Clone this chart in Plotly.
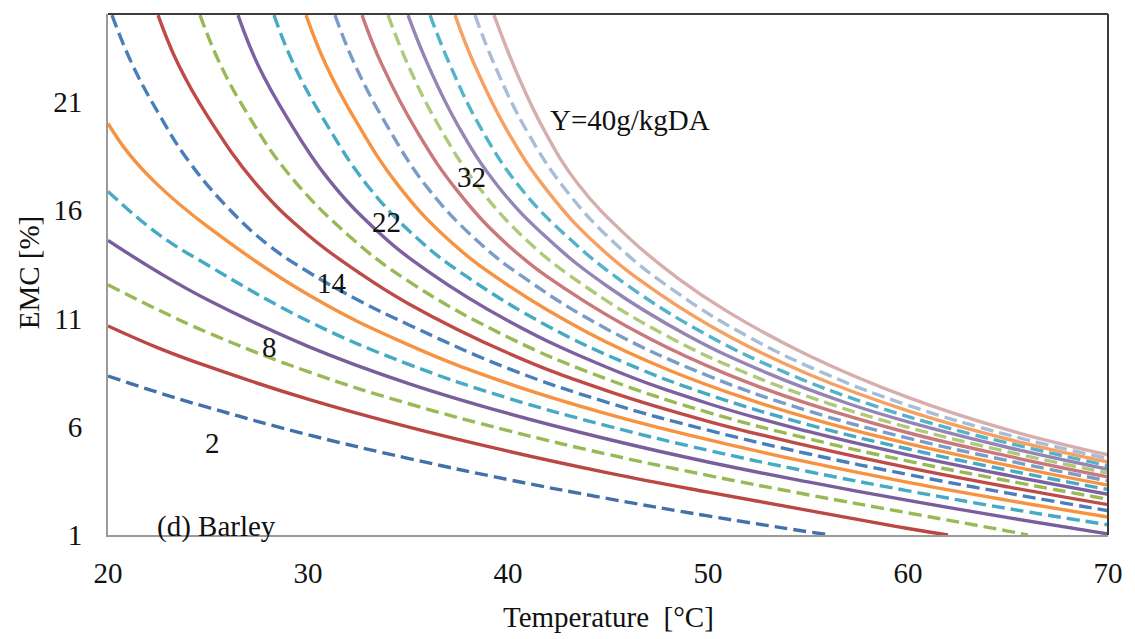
import plotly.graph_objects as go

# Absolute humidity of the drying air for each curve [g/kg dry air]
humidity = [2, 4, 6, 8, 10, 12, 14, 16, 18, 20, 22, 24, 26, 28, 30, 32, 34, 36, 38, 40]

# Temperature [°C] / equilibrium moisture content [%] pairs, one pair of lists per curve
T_02 = [20, 22.5, 25, 30, 35, 40, 45, 50, 55, 56.1]
M_02 = [8.34, 7.58, 6.89, 5.63, 4.54, 3.56, 2.68, 1.88, 1.15, 1.0]

T_04 = [20, 22.5, 25, 30, 35, 40, 45, 50, 55, 60, 62.0]
M_04 = [10.65, 9.64, 8.78, 7.27, 5.99, 4.87, 3.87, 2.98, 2.14, 1.3, 1.0]

T_06 = [20, 22.5, 25, 30, 35, 40, 45, 50, 55, 60, 65, 66.0]
M_06 = [12.55, 11.40, 10.34, 8.54, 7.07, 5.82, 4.72, 3.75, 2.86, 2.02, 1.18, 1.0]

T_08 = [20, 22.5, 25, 30, 35, 40, 45, 50, 55, 60, 65, 70]
M_08 = [14.6, 13.14, 11.85, 9.71, 8.00, 6.61, 5.42, 4.37, 3.45, 2.6, 1.8, 1.05]

T_10 = [20, 22.5, 25, 30, 35, 40, 45, 50, 55, 60, 65, 70]
M_10 = [16.86, 14.9, 13.45, 10.88, 8.89, 7.32, 6.03, 4.91, 3.93, 3.04, 2.22, 1.47]

T_12 = [20, 21, 22.5, 25, 30, 35, 40, 45, 50, 55, 60, 65, 70]
M_12 = [20.0, 18.65, 17.15, 15.22, 12.10, 9.79, 8.00, 6.58, 5.40, 4.36, 3.43, 2.6, 1.83]

T_14 = [20.2, 21.2, 22.6, 24, 26, 28, 30, 32.5, 35, 40, 45, 50, 55, 60, 65, 70]
M_14 = [25, 22.75, 20.35, 18.3, 16.1, 14.4, 13.15, 11.85, 10.72, 8.69, 7.11, 5.84, 4.75, 3.79, 2.93, 2.12]

T_16 = [22.5, 23.5, 25, 27.5, 30, 32.5, 35, 40, 45, 50, 55, 60, 65, 70]
M_16 = [25, 22.75, 20.3, 17.1, 14.85, 13.14, 11.69, 9.40, 7.64, 6.25, 5.11, 4.11, 3.22, 2.4]

T_18 = [24.6, 25.6, 27, 29, 32, 35, 40, 45, 50, 55, 60, 65, 70]
M_18 = [25, 22.75, 20.4, 17.7, 14.85, 12.73, 10.13, 8.18, 6.66, 5.45, 4.41, 3.50, 2.65]

T_20 = [26.5, 27.5, 29, 31, 33.5, 36, 40, 45, 50, 55, 60, 65, 70]
M_20 = [25, 22.7, 20.2, 17.45, 15.0, 13.17, 10.89, 8.72, 7.07, 5.78, 4.70, 3.75, 2.88]

T_22 = [28.3, 29.3, 31, 33, 35.5, 38, 42, 46, 50, 55, 60, 65, 70]
M_22 = [25, 22.7, 19.85, 17.1, 14.66, 12.89, 10.64, 8.89, 7.49, 6.10, 4.97, 3.99, 3.10]

T_24 = [29.9, 30.9, 32.5, 34.5, 37, 40, 44, 48, 52, 56, 60, 65, 70]
M_24 = [25, 22.7, 19.95, 17.15, 14.65, 12.53, 10.34, 8.63, 7.27, 6.15, 5.22, 4.21, 3.30]

T_26 = [31.35, 32.35, 34, 36, 38.5, 41, 45, 50, 55, 60, 65, 70]
M_26 = [25, 22.7, 19.82, 17.0, 14.55, 12.75, 10.48, 8.35, 6.73, 5.47, 4.43, 3.50]

T_28 = [32.7, 33.7, 35.5, 37.5, 40, 43, 47, 51, 55, 60, 65, 70]
M_28 = [25, 22.7, 19.55, 16.85, 14.38, 12.28, 10.10, 8.40, 7.06, 5.72, 4.64, 3.68]

T_30 = [34.0, 35, 36.5, 38.5, 41, 44, 48, 52, 56, 60, 65, 70]
M_30 = [25, 22.7, 19.95, 17.1, 14.55, 12.39, 10.16, 8.44, 7.08, 5.97, 4.84, 3.86]

T_32 = [35.0, 36, 37.5, 39.5, 42, 45, 49, 53, 57, 60, 65, 70]
M_32 = [25, 22.7, 19.9, 17.1, 14.67, 12.46, 10.20, 8.46, 7.07, 6.22, 5.04, 4.03]

T_34 = [36.1, 37.1, 38.6, 40.6, 43, 46, 50, 54, 58, 62, 66, 70]
M_34 = [25, 22.7, 19.85, 17.05, 14.74, 12.51, 10.21, 8.45, 7.06, 5.94, 5.03, 4.2]

T_36 = [37.35, 38.35, 40, 42, 44.5, 47.5, 51, 55, 60, 65, 70]
M_36 = [25, 22.65, 19.6, 16.85, 14.35, 12.18, 10.20, 8.43, 6.73, 5.42, 4.37]

T_38 = [38.35, 39.35, 41, 43, 45.5, 48.5, 52, 56, 60, 65, 70]
M_38 = [25, 22.65, 19.55, 16.8, 14.33, 12.15, 10.16, 8.39, 6.99, 5.62, 4.53]

T_40 = [39.3, 40.5, 41.8, 43.5, 46, 48.5, 51, 55, 60, 65, 70]
M_40 = [25, 22.2, 19.7, 17.2, 14.75, 12.85, 11.3, 9.3, 7.35, 5.85, 4.7]

temps = [T_02, T_04, T_06, T_08, T_10, T_12, T_14, T_16, T_18, T_20,
         T_22, T_24, T_26, T_28, T_30, T_32, T_34, T_36, T_38, T_40]
emcs = [M_02, M_04, M_06, M_08, M_10, M_12, M_14, M_16, M_18, M_20,
        M_22, M_24, M_26, M_28, M_30, M_32, M_34, M_36, M_38, M_40]

colors = [
    "#4270A8", "#BA4744", "#98B954", "#7A5E9C", "#46AAC5", "#F69240",
    "#4A7EBB", "#BE4B48", "#98B954", "#7D60A0", "#46AAC5", "#F69240",
    "#7B9CC8", "#C9787C", "#AFC97A", "#9585B5", "#52B3CB", "#F6A062",
    "#A8BDD8", "#D7AEAE",
]

x_ticks = [20, 30, 40, 50, 60, 70]
y_ticks = [1, 6, 11, 16, 21]

# Curve labels: (text, temperature, EMC)
curve_labels = [
    ("2", 25.22, 5.25),
    ("8", 28.06, 9.68),
    ("14", 31.19, 12.64),
    ("22", 33.93, 15.46),
    ("32", 38.16, 17.54),
    ("Y=40g/kgDA", 46.12, 20.17),
    ("(d) Barley", 25.42, 1.37),
]

FONT = "Liberation Serif, Times New Roman, serif"
FS = 29

fig = go.Figure()
for i, (y_abs, tx, my) in enumerate(zip(humidity, temps, emcs)):
    fig.add_trace(go.Scatter(
        x=tx, y=my, mode="lines", name=f"Y={y_abs}",
        line=dict(color=colors[i], width=3.4, shape="spline", smoothing=1.2,
                  dash="13px,6px" if i % 2 == 0 else "solid"),
        showlegend=False,
    ))

for text, tx, my in curve_labels:
    fig.add_annotation(x=tx, y=my, text=text, showarrow=False,
                       font=dict(family=FONT, size=FS, color="#111111"),
                       xanchor="center", yanchor="middle")

# Axis titles
fig.add_annotation(xref="paper", yref="paper", x=0.5, y=-0.158,
                   text="Temperature  [°C]", showarrow=False,
                   font=dict(family=FONT, size=FS, color="#111111"),
                   xanchor="center", yanchor="middle")
fig.add_annotation(xref="paper", yref="paper", x=-0.0796, y=0.505,
                   text="EMC [%]", showarrow=False, textangle=-90,
                   font=dict(family=FONT, size=FS, color="#111111"),
                   xanchor="center", yanchor="middle")

# Dark frame on the top and right sides of the plot area
fig.add_shape(type="line", xref="paper", yref="paper", x0=0, x1=1, y0=1, y1=1,
              line=dict(color="#3c3c3c", width=2))
fig.add_shape(type="line", xref="paper", yref="paper", x0=1, x1=1, y0=0, y1=1,
              line=dict(color="#3c3c3c", width=2))

fig.update_layout(
    width=1135, height=639,
    margin=dict(l=108, r=22, t=14, b=104),
    paper_bgcolor="white", plot_bgcolor="white",
    font=dict(family=FONT, size=FS, color="#111111"),
    xaxis=dict(range=[20, 70], tickvals=x_ticks, ticktext=[str(v) for v in x_ticks],
               showgrid=False, zeroline=False, showline=True, linecolor="#9a9a9a",
               linewidth=2, ticks="", ticklabelstandoff=11,
               tickfont=dict(family=FONT, size=FS, color="#111111")),
    yaxis=dict(range=[1, 25.05], tickvals=y_ticks, ticktext=[str(v) for v in y_ticks],
               showgrid=False, zeroline=False, showline=True, linecolor="#9a9a9a",
               linewidth=2, ticks="", ticklabelstandoff=18,
               tickfont=dict(family=FONT, size=FS, color="#111111")),
)

fig.write_html("out.html")
